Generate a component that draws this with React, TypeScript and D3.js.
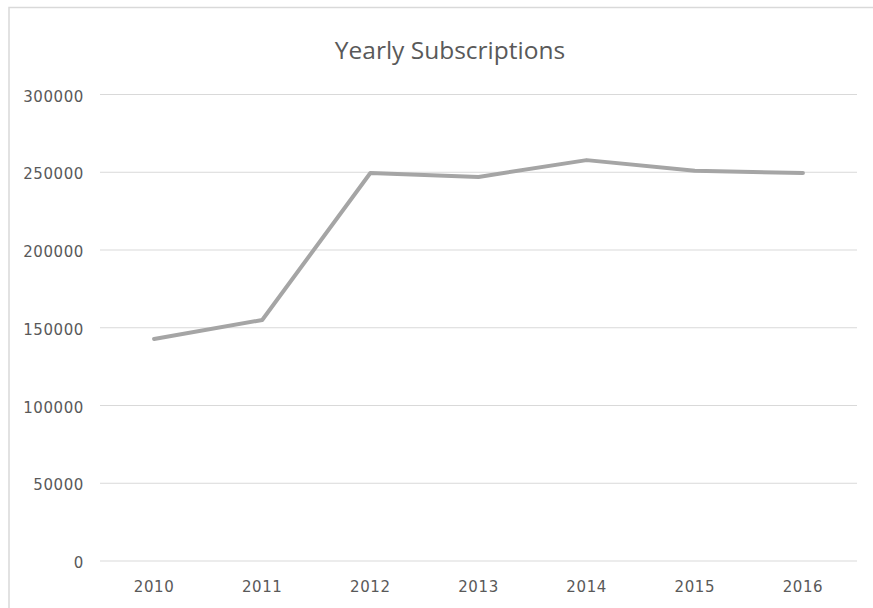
import React from "react";
import * as d3 from "d3";

const years = ["2010", "2011", "2012", "2013", "2014", "2015", "2016"];
const subscriptions = [142800, 155000, 249500, 247000, 257800, 251000, 249500];
const yTicks = [0, 50000, 100000, 150000, 200000, 250000, 300000];
const title = "Yearly Subscriptions";

const W = 873;
const H = 608;
const plot = { left: 100, right: 857, top: 94.5, bottom: 561 };

export default function App() {
  const x = d3.scaleBand<string>().domain(years).range([plot.left, plot.right]);
  const y = d3.scaleLinear().domain([0, 300000]).range([plot.bottom, plot.top]);
  const line = d3
    .line<number>()
    .x((_, i) => (x(years[i]) as number) + x.bandwidth() / 2)
    .y((d) => y(d));
  const tickFont = "'DejaVu Sans', sans-serif";
  return (
    <svg
      width={W}
      height={H}
      style={{ position: "absolute", left: 0, top: 0, background: "#fff" }}
    >
      <rect x={9} y={7.5} width={W + 20} height={H + 20} fill="#fff" stroke="#d9d9d9" strokeWidth={1.5} />
      <text
        x={450}
        y={58.5}
        textAnchor="middle"
        fontFamily="'Open Sans', sans-serif"
        fontSize={24.5}
        fill="#595959"
      >
        {title}
      </text>
      {yTicks.map((t) => (
        <g key={t}>
          <line x1={plot.left} x2={plot.right} y1={y(t)} y2={y(t)} stroke="#d9d9d9" strokeWidth={1.2} />
          <text
            x={84}
            y={y(t) + 7}
            textAnchor="end"
            fontFamily={tickFont}
            fontSize={15}
            letterSpacing={0.6}
            fill="#595959"
          >
            {t}
          </text>
        </g>
      ))}
      {years.map((yr) => (
        <text
          key={yr}
          x={(x(yr) as number) + x.bandwidth() / 2}
          y={592}
          textAnchor="middle"
          fontFamily={tickFont}
          fontSize={15}
          letterSpacing={0.6}
          fill="#595959"
        >
          {yr}
        </text>
      ))}
      <path d={line(subscriptions) || ""} fill="none" stroke="#a5a5a5" strokeWidth={4} strokeLinejoin="round" strokeLinecap="round" />
    </svg>
  );
}
